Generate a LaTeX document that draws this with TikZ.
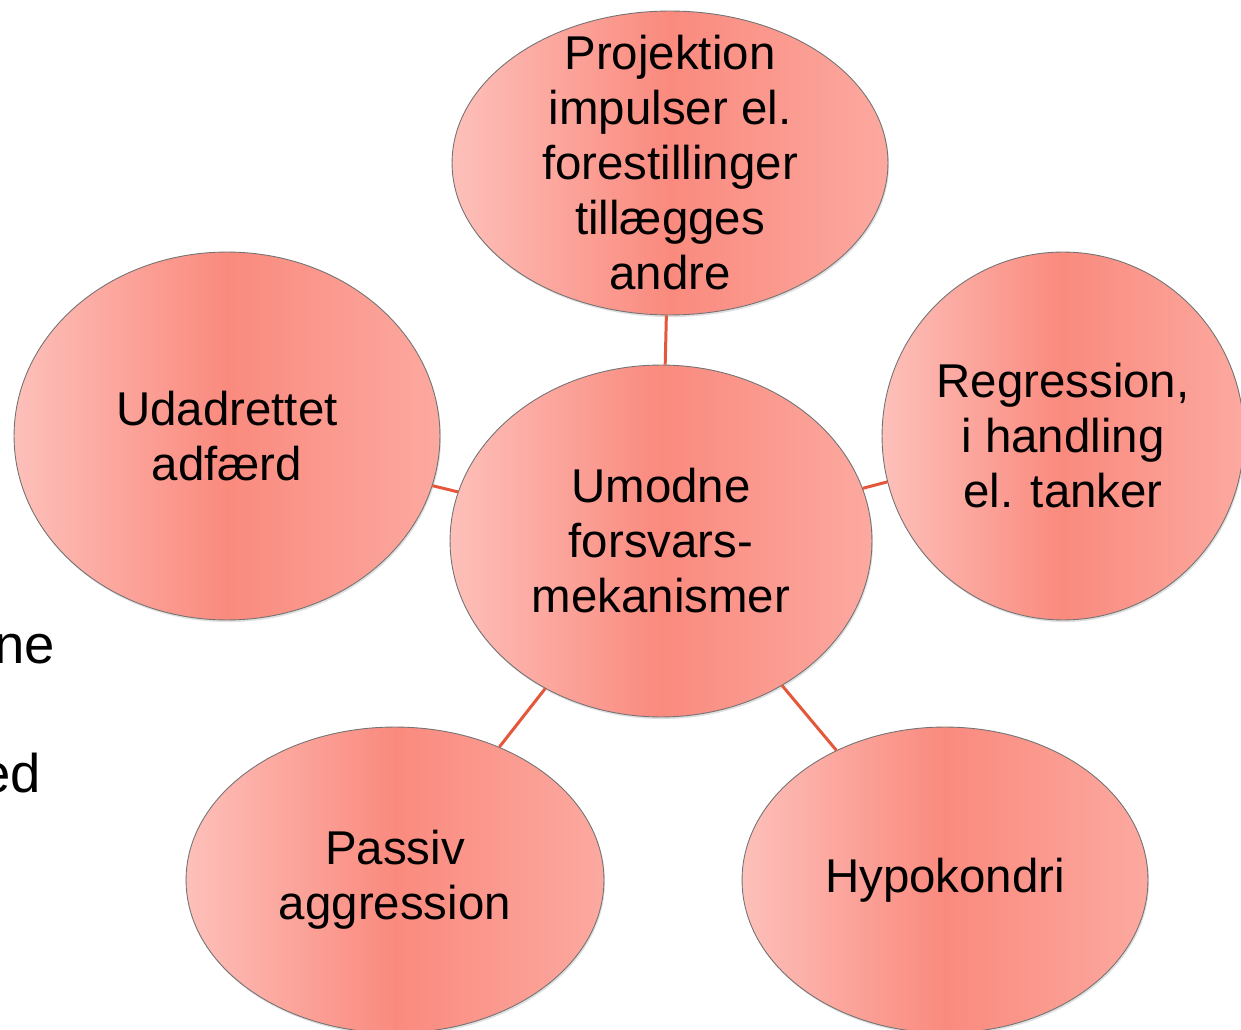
\documentclass[tikz,border=0pt]{standalone}
\usepackage{fontspec}
\setmainfont{Liberation Sans}
\usetikzlibrary{shapes.geometric,shadows}
\definecolor{bubbleleft}{HTML}{FDC0BA}
\definecolor{bubblemid}{HTML}{FA8A7E}
\definecolor{bubbleright}{HTML}{FCA9A0}
\definecolor{linkred}{HTML}{E5573B}
\begin{document}
\begin{tikzpicture}
[x=0.02cm, y=-0.02cm,
 bubble/.style={ellipse, draw=black!55, line width=.5pt, inner sep=0pt,
   left color=bubbleleft, right color=bubbleright, middle color=bubblemid,
   drop shadow={shadow xshift=.6pt, shadow yshift=-1.2pt, opacity=.25}},
 every label/.style={align=center, inner sep=0pt, font=\fontsize{27}{31.3}\selectfont},
 link/.style={draw=linkred, line width=1.7pt}]
\useasboundingbox (0,0) rectangle (1241,1030);
\clip (0,0) rectangle (1241,1030);
% text behind the diagram
\node (ne) at (55,663) [anchor=base east, inner sep=0pt, font=\fontsize{31}{36}\selectfont] {ne};
\node (ed) at (41,792) [anchor=base east, inner sep=0pt, font=\fontsize{31}{36}\selectfont] {ed};

\node (Umodne) at (661,541) [bubble, minimum width=8.44cm, minimum height=7.04cm,
  label=center:{Umodne\\forsvars-\\mekanismer}] {};
\node (Projektion) at (670,163) [bubble, minimum width=8.72cm, minimum height=6.08cm,
  label=center:{Projektion\\impulser el.\\forestillinger\\tillægges\\andre}] {};
\node (Udadrettet) at (227,436) [bubble, minimum width=8.52cm, minimum height=7.36cm,
  label=center:{Udadrettet\\adfærd}] {};
\node (Regression) at (1063,436) [bubble, minimum width=7.24cm, minimum height=7.36cm,
  label=center:{Regression,\\i handling\\el. tanker}] {};
\node (Passiv) at (395,880) [bubble, minimum width=8.36cm, minimum height=6.12cm,
  label=center:{Passiv\\aggression}] {};
\node (Hypokondri) at (945,880) [bubble, minimum width=8.12cm, minimum height=6.12cm,
  label=center:{Hypokondri}] {};

\draw [link] (Projektion) -- (Umodne);
\draw [link] (Udadrettet) -- (Umodne);
\draw [link] (Regression) -- (Umodne);
\draw [link] (Passiv) -- (Umodne);
\draw [link] (Hypokondri) -- (Umodne);
\end{tikzpicture}
\end{document}
